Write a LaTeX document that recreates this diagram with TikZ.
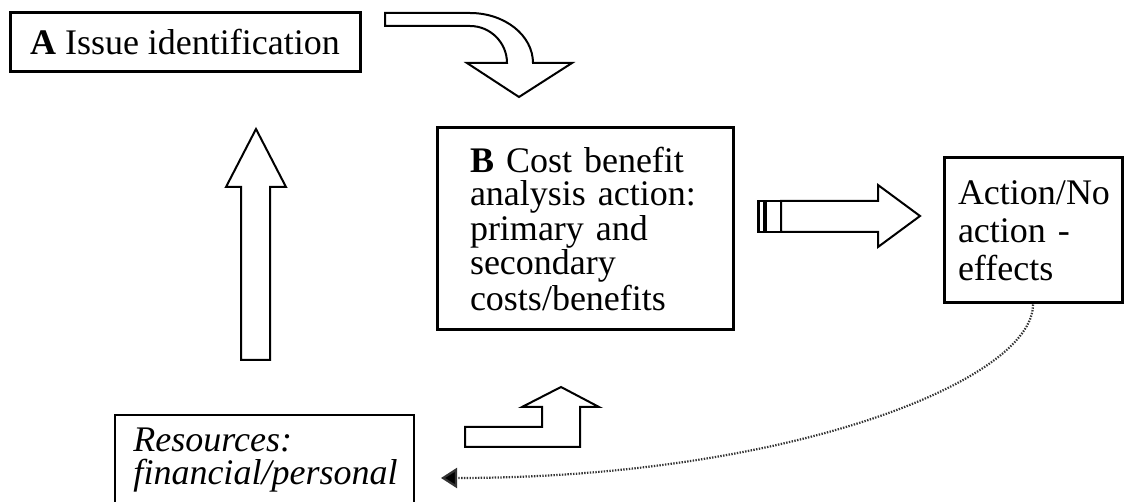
\documentclass[tikz,border=0pt]{standalone}
\usepackage{fontspec}
\setmainfont{Liberation Serif}
\usetikzlibrary{arrows.meta}
\begin{document}
\begin{tikzpicture}[x=0.5pt,y=-0.5pt,
box/.style={draw,line width=1.5pt,inner sep=0pt,align=left,font=\fontsize{18}{16.25}\selectfont},
blockarrow/.style={draw,line width=1pt,line join=miter,fill=white}]
\useasboundingbox (0,0) rectangle (1126,502);
\node[box,minimum width=175pt,minimum height=29.5pt] (issue) at (185,42.5) {\textbf{A} Issue identification};
\node[box,text width=115pt,minimum width=148pt,minimum height=101pt] (cba) at (585,229) {\textbf{B} Cost benefit\\analysis action:\\primary and\\secondary\\costs/benefits};
\node[box,text width=75pt,minimum width=89pt,minimum height=72.5pt,font=\fontsize{18}{19}\selectfont] (act) at (1033,230.5) {Action/No\\action -\\effects};
\node[box,line width=1pt,text width=131pt,minimum width=149.5pt,minimum height=45.5pt,font=\fontsize{18}{16.5}\selectfont\itshape] (res) at (264.5,460.5) {Resources:\\financial/personal};
\draw[blockarrow] (385,13) -- (470,13) .. controls (504.8,13) and (533,35.4) .. (533,63) -- (572,63) -- (519,97) -- (467,63) -- (507,63) .. controls (507,42.6) and (490.4,26) .. (470,26) -- (385,26) -- cycle;
\draw[blockarrow] (241,360) -- (241,187) -- (226,187) -- (256,129) -- (286,187) -- (270,187) -- (270,360) -- cycle;
\draw[blockarrow] (781,201) -- (878,201) -- (878,185) -- (920,216) -- (878,247) -- (878,232) -- (781,232) -- cycle;
\draw[line width=1pt] (758,201) rectangle (781,232);
\fill (757,201) rectangle (760,232);
\fill (763,201) rectangle (767,232);
\draw[blockarrow] (465,427) -- (542,427) -- (542,407) -- (522,407) -- (561,387) -- (599,407) -- (580,407) -- (580,447) -- (465,447) -- cycle;
\draw[black!80,line width=1.1pt,dash pattern=on 0.7pt off 0.7pt,-{Triangle[length=8pt,width=10pt,fill=black]}] (act.south) .. controls +(0,75) and +(350,0) .. ([xshift=13pt,yshift=-8.75pt]res.east);
\end{tikzpicture}
\end{document}
